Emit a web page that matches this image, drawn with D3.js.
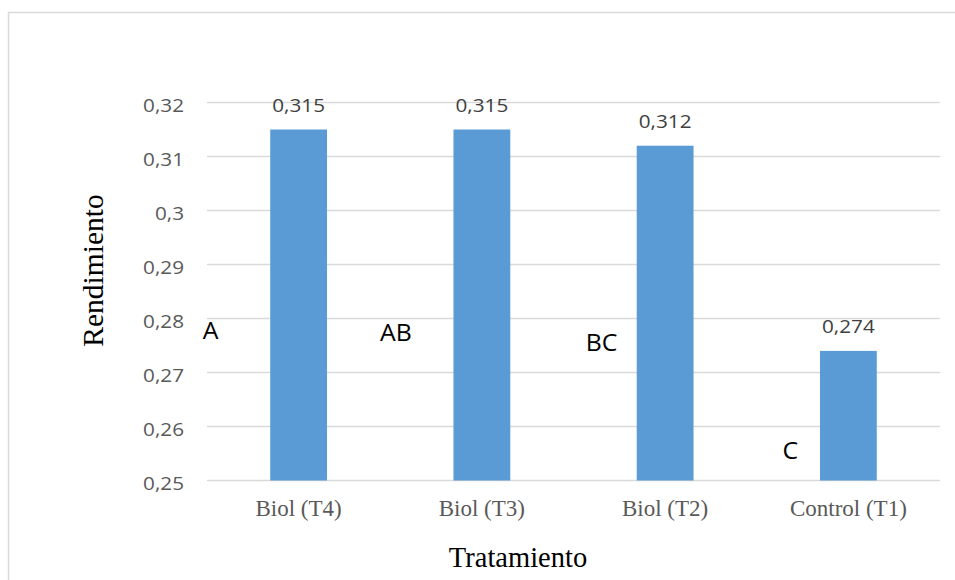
<!DOCTYPE html>
<html><head><meta charset="utf-8">
<script src="https://cdn.jsdelivr.net/npm/d3@7"></script>
<style>html,body{margin:0;padding:0;background:#fff;}svg{display:block;}</style>
</head><body>
<script>
const categories = ["Biol (T4)", "Biol (T3)", "Biol (T2)", "Control (T1)"];
const values = [0.315, 0.315, 0.312, 0.274];
const valueLabels = ["0,315", "0,315", "0,312", "0,274"];
const groupLetters = ["A", "AB", "BC", "C"];
const letterValues = [0.2762, 0.2758, 0.274, 0.2540];
const yTicks = [0.25, 0.26, 0.27, 0.28, 0.29, 0.30, 0.31, 0.32];
const yTickLabels = ["0,25", "0,26", "0,27", "0,28", "0,29", "0,3", "0,31", "0,32"];

const W = 955, H = 580;
const svg = d3.select("body").append("svg").attr("width", W).attr("height", H);

svg.append("rect").attr("x", 8.5).attr("y", 12.5).attr("width", 960).attr("height", 600)
  .attr("fill", "#fff").attr("stroke", "#d9d9d9").attr("stroke-width", 1.5);

const pLeft = 207, pRight = 940, pTop = 102.5, pBottom = 480.5;
const x = d3.scaleBand().domain(categories).range([pLeft, pRight]).paddingInner(0.69).paddingOuter(0.345);
const y = d3.scaleLinear().domain([0.25, 0.32]).range([pBottom, pTop]);

const uiFont = "'Open Sans', Lato, sans-serif";
const serif = "'Liberation Serif', 'Times New Roman', serif";
const SX = 1.12;

// gridlines
svg.append("g").selectAll("line").data(yTicks).join("line")
  .attr("x1", pLeft).attr("x2", pRight)
  .attr("y1", d => y(d)).attr("y2", d => y(d))
  .attr("stroke", "#d9d9d9").attr("stroke-width", 1.3);

// y tick labels
svg.append("g").selectAll("text").data(yTicks).join("text")
  .attr("transform", d => `translate(184,${y(d) + 9.2}) scale(${SX},1)`)
  .attr("text-anchor", "end").attr("font-family", uiFont).attr("font-size", 18.5)
  .attr("fill", "#595959").text((d, i) => yTickLabels[i]);

// bars
svg.append("g").selectAll("rect").data(values).join("rect")
  .attr("x", (d, i) => x(categories[i])).attr("width", x.bandwidth())
  .attr("y", d => y(d)).attr("height", d => y(0.25) - y(d))
  .attr("fill", "#5b9bd5");

// value labels
svg.append("g").selectAll("text").data(values).join("text")
  .attr("transform", (d, i) => `translate(${x(categories[i]) + x.bandwidth() / 2},${y(d) - 17.5}) scale(${SX},1)`)
  .attr("text-anchor", "middle").attr("font-family", uiFont).attr("font-size", 18.5)
  .attr("fill", "#404040").text((d, i) => valueLabels[i]);

// group letters
const letterOffsets = [-67.5, -73.5, -51, -37.5];
svg.append("g").selectAll("text").data(groupLetters).join("text")
  .attr("transform", (d, i) => `translate(${x(categories[i]) + letterOffsets[i]},${y(letterValues[i])}) scale(1.08,1)`)
  .attr("text-anchor", "start").attr("font-family", uiFont).attr("font-size", 23)
  .attr("fill", "#000").text(d => d);

// category labels
svg.append("g").selectAll("text").data(categories).join("text")
  .attr("x", d => x(d) + x.bandwidth() / 2).attr("y", 515.7)
  .attr("text-anchor", "middle").attr("font-family", serif).attr("font-size", 23)
  .attr("fill", "#595959").text(d => d);

// axis titles
svg.append("text").attr("x", 518).attr("y", 566.5).attr("text-anchor", "middle")
  .attr("font-family", serif).attr("font-size", 28.5).attr("fill", "#000").text("Tratamiento");
svg.append("text").attr("transform", "translate(103.3,270.5) rotate(-90)").attr("text-anchor", "middle")
  .attr("font-family", serif).attr("font-size", 29.5).attr("fill", "#000").text("Rendimiento");
</script>
</body></html>
